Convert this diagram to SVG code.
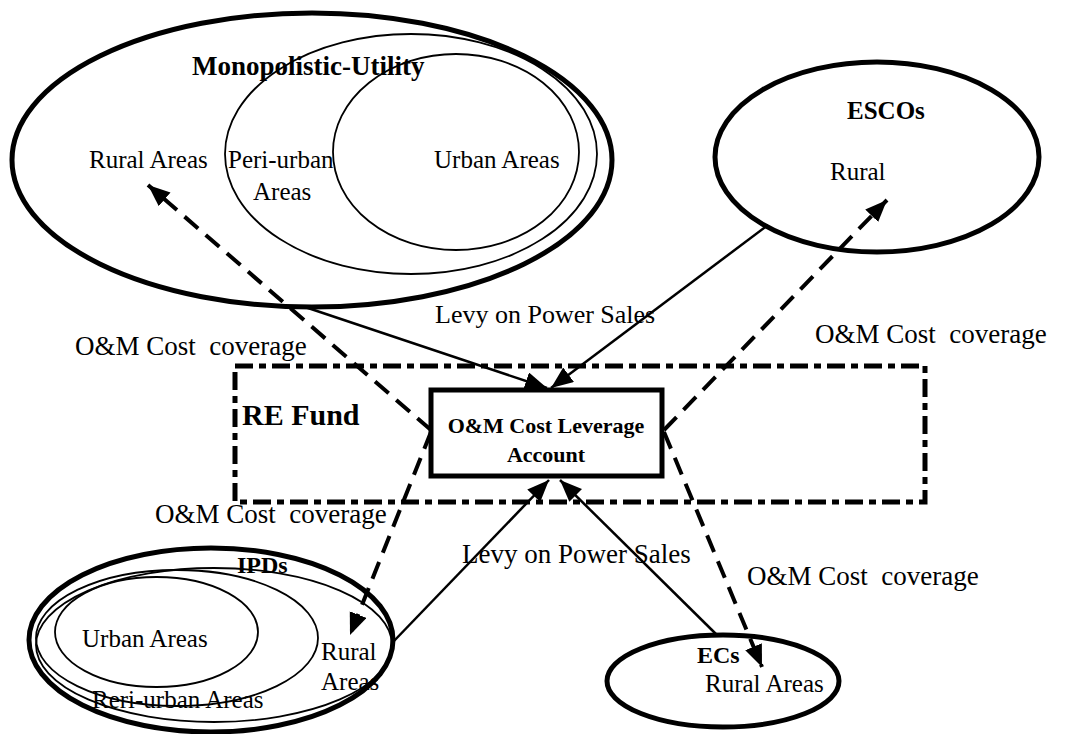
<svg xmlns="http://www.w3.org/2000/svg" width="1074" height="734" viewBox="0 0 1074 734">
<style>
  .thick { fill: none; stroke: #000; stroke-width: 5; }
  .thin { fill: none; stroke: #000; stroke-width: 1.8; }
  .t { font-family: "Liberation Serif", "Times New Roman", serif; fill: #000; }
  .b { font-family: "Liberation Serif", "Times New Roman", serif; font-weight: bold; fill: #000; }
  .solid { fill: none; stroke: #000; stroke-width: 2.5; }
  .dash { fill: none; stroke: #000; stroke-width: 4; stroke-dasharray: 18 10; }
  .fund { fill: none; stroke: #000; stroke-width: 5; stroke-dasharray: 18 6 7 6; }
</style>
<defs>
  <marker id="arr" markerUnits="userSpaceOnUse" markerWidth="24" markerHeight="20" refX="22" refY="9" orient="auto">
    <path d="M0,0 L22,9 L0,18 z" fill="#000"/>
  </marker>
</defs>
<rect width="1074" height="734" fill="#fff"/>

<g id="monopolistic-utility">
  <ellipse class="thick" cx="312" cy="160" rx="300" ry="147"/>
  <ellipse class="thin" cx="411" cy="154" rx="186" ry="120"/>
  <ellipse class="thin" cx="456" cy="152" rx="123" ry="98"/>
  <text class="b" x="192" y="75" font-size="27">Monopolistic-Utility</text>
  <text class="t" x="89" y="168" font-size="25">Rural Areas</text>
  <text class="t" x="228" y="168" font-size="25">Peri-urban</text>
  <text class="t" x="253" y="200" font-size="25">Areas</text>
  <text class="t" x="434" y="168" font-size="25">Urban Areas</text>
</g>

<g id="escos">
  <ellipse class="thick" cx="877" cy="157" rx="162" ry="95"/>
  <text class="b" x="847" y="119" font-size="25">ESCOs</text>
  <text class="t" x="830" y="180" font-size="25">Rural</text>
</g>

<g id="re-fund">
  <rect class="fund" x="235" y="366" width="690" height="136"/>
  <text class="b" x="242" y="425" font-size="30">RE Fund</text>
</g>

<g id="om-account">
  <rect x="431" y="390" width="231" height="86" fill="#fff" stroke="#000" stroke-width="5"/>
  <text class="b" x="546" y="433" font-size="22" text-anchor="middle">O&amp;M Cost Leverage</text>
  <text class="b" x="546" y="462" font-size="22" text-anchor="middle">Account</text>
</g>

<g id="ipds">
  <ellipse class="thick" cx="211" cy="640" rx="182" ry="92"/>
  <ellipse class="thin" cx="214" cy="645" rx="178" ry="77"/>
  <ellipse class="thin" cx="177" cy="638" rx="141" ry="68"/>
  <ellipse class="thin" cx="156.5" cy="632" rx="101.5" ry="55"/>
  <text class="b" x="237" y="573" font-size="24">IPDs</text>
  <text class="t" x="82" y="647" font-size="25">Urban Areas</text>
  <text class="t" x="92" y="708" font-size="25">Reri-urban Areas</text>
  <text class="t" x="321" y="660" font-size="25">Rural</text>
  <text class="t" x="321" y="690" font-size="25">Areas</text>
</g>

<g id="ecs">
  <ellipse class="thick" cx="723" cy="681" rx="116" ry="46"/>
  <text class="b" x="697" y="663" font-size="24">ECs</text>
  <text class="t" x="705" y="692" font-size="25">Rural Areas</text>
</g>

<g id="connectors">
  <line class="solid" x1="305" y1="307" x2="547" y2="388" marker-end="url(#arr)"/>
  <line class="solid" x1="768" y1="225" x2="551" y2="388" marker-end="url(#arr)"/>
  <line class="solid" x1="393" y1="642" x2="549" y2="480" marker-end="url(#arr)"/>
  <line class="solid" x1="718" y1="636" x2="560" y2="480" marker-end="url(#arr)"/>
  <line class="dash" x1="431" y1="430" x2="148" y2="185" marker-end="url(#arr)"/>
  <line class="dash" x1="664" y1="430" x2="887" y2="200" marker-end="url(#arr)"/>
  <line class="dash" x1="431" y1="432" x2="350" y2="635" marker-end="url(#arr)"/>
  <line class="dash" x1="664" y1="432" x2="762" y2="667" marker-end="url(#arr)"/>
  <text class="t" x="435" y="323" font-size="26">Levy on Power Sales</text>
  <text class="t" x="462" y="563" font-size="27">Levy on Power Sales</text>
  <text class="t" x="75" y="355" font-size="27" xml:space="preserve">O&amp;M Cost  coverage</text>
  <text class="t" x="815" y="343" font-size="27" xml:space="preserve">O&amp;M Cost  coverage</text>
  <text class="t" x="155" y="523" font-size="27" xml:space="preserve">O&amp;M Cost  coverage</text>
  <text class="t" x="747" y="585" font-size="27" xml:space="preserve">O&amp;M Cost  coverage</text>
</g>
</svg>
